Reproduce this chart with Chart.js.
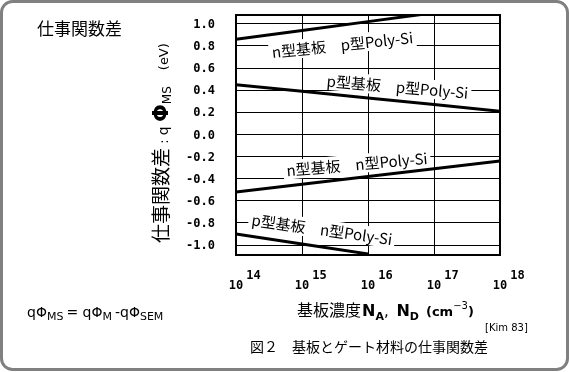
<!DOCTYPE html>
<html>
<head>
<meta charset="utf-8">
<script src="https://cdn.jsdelivr.net/npm/chart.js@4"></script>
<style>
html, body { margin: 0; padding: 0; background: #fff; }
</style>
</head>
<body>
<canvas id="c" width="569" height="372"></canvas>
<script>
// doping concentration (cm^-3) and work function difference (eV)
var concentration = [1e14, 1e15, 1e16, 1e17, 1e18];
var nSubPPoly = [0.86, 0.94, 1.02, 1.10, 1.18];
var pSubPPoly = [0.45, 0.39, 0.33, 0.27, 0.21];
var nSubNPoly = [-0.52, -0.45, -0.38, -0.31, -0.24];
var pSubNPoly = [-0.90, -0.99, -1.08, null, null];

var yTicks = [1.0, 0.8, 0.6, 0.4, 0.2, 0.0, -0.2, -0.4, -0.6, -0.8, -1.0];
var xExponents = ['14', '15', '16', '17', '18'];

var curveLabels = ['n型基板　p型Poly-Si', 'p型基板　p型Poly-Si', 'n型基板　n型Poly-Si', 'p型基板　n型Poly-Si'];
var curveLabelX = [4.1e15, 2.8e16, 6.8e15, 2.0e15];
var curveLabelY = [0.81, 0.43, -0.27, -0.86];
var curveLabelAngle = [-6, 5, -5, 8];

var JP = '"Noto Sans CJK JP", sans-serif';
var MONO = '"DejaVu Sans Mono", monospace';
var SANS = '"DejaVu Sans", sans-serif';

function toPoints(ys) {
   return concentration.map(function(x, i) { return { x: x, y: ys[i] }; });
}

function makeSet(ys) {
   return {
      data: toPoints(ys),
      borderColor: '#000',
      borderWidth: 3,
      pointRadius: 0,
      tension: 0,
      spanGaps: false
   };
}

// draws pieces of text one after another on a shared baseline
function runs(ctx, x, y, parts) {
   var cx = x;
   parts.forEach(function(p) {
      ctx.font = p.font;
      ctx.fillText(p.t, cx, y + (p.dy || 0));
      cx += ctx.measureText(p.t).width + (p.gap || 0);
   });
   return cx - x;
}

var textPlugin = {
   id: 'texts',
   beforeDatasetsDraw: function(chart) {
      var ctx = chart.ctx, xs = chart.scales.x, ys = chart.scales.y;
      ctx.save();
      ctx.font = '15px ' + JP;
      for (var i = 0; i < curveLabels.length; i++) {
         var w = ctx.measureText(curveLabels[i]).width;
         ctx.save();
         ctx.translate(xs.getPixelForValue(curveLabelX[i]), ys.getPixelForValue(curveLabelY[i]));
         ctx.rotate(curveLabelAngle[i] * Math.PI / 180);
         ctx.fillStyle = '#fff';
         ctx.fillRect(-w / 2 - 3, -10, w + 6, 19);
         ctx.restore();
      }
      ctx.restore();
   },
   afterDatasetsDraw: function(chart) {
      var ctx = chart.ctx, xs = chart.scales.x, ys = chart.scales.y;
      var a = chart.chartArea;
      ctx.save();
      ctx.fillStyle = '#000';

      // curve labels
      ctx.font = '15px ' + JP;
      ctx.textAlign = 'center';
      ctx.textBaseline = 'middle';
      for (var i = 0; i < curveLabels.length; i++) {
         ctx.save();
         ctx.translate(xs.getPixelForValue(curveLabelX[i]), ys.getPixelForValue(curveLabelY[i]));
         ctx.rotate(curveLabelAngle[i] * Math.PI / 180);
         ctx.fillText(curveLabels[i], 0, 0);
         ctx.restore();
      }

      // plot frame
      ctx.strokeStyle = '#000';
      ctx.lineWidth = 2;
      ctx.strokeRect(a.left, a.top, a.right - a.left, a.bottom - a.top);

      // y tick labels
      ctx.textAlign = 'right';
      ctx.textBaseline = 'middle';
      ctx.font = 'bold 12px ' + MONO;
      yTicks.forEach(function(v) {
         ctx.fillText(v.toFixed(1), a.left - 21, ys.getPixelForValue(v) + 1);
      });

      // x tick labels 10^n
      ctx.textAlign = 'left';
      ctx.textBaseline = 'alphabetic';
      concentration.forEach(function(v, i) {
         var px = xs.getPixelForValue(v);
         ctx.font = 'bold 12px ' + MONO;
         var w = ctx.measureText('10').width;
         ctx.fillText('10', px - w / 2, 289);
         ctx.fillText(xExponents[i], px + w / 2 + 3, 279);
      });

      // y axis title (rotated)
      ctx.save();
      ctx.translate(168, 243);
      ctx.rotate(-Math.PI / 2);
      runs(ctx, 0, 0, [
         { t: '仕事関数差', font: '19px ' + JP },
         { t: ' : ', font: '13px ' + SANS },
         { t: 'q ', font: '14px ' + SANS },
         { t: 'Φ', font: 'bold 21px ' + SANS },
         { t: 'MS', font: '12px ' + SANS, dy: 3, gap: 16 },
         { t: '(eV)', font: '13px ' + SANS }
      ]);
      ctx.restore();

      // x axis title
      runs(ctx, 297, 316, [
         { t: '基板濃度', font: '16px ' + JP, gap: 1 },
         { t: 'N', font: 'bold 16px ' + SANS },
         { t: 'A', font: 'bold 11px ' + SANS, dy: 4 },
         { t: ', ', font: '15px ' + SANS, gap: 3 },
         { t: 'N', font: 'bold 16px ' + SANS },
         { t: 'D', font: 'bold 11px ' + SANS, dy: 4, gap: 7 },
         { t: '(cm', font: 'bold 13px ' + SANS },
         { t: '−3', font: '10px ' + SANS, dy: -7 },
         { t: ')', font: 'bold 13px ' + SANS }
      ]);

      ctx.font = '10px ' + SANS;
      ctx.fillText('[Kim 83]', 485, 331);

      ctx.font = '14px ' + JP;
      ctx.fillText('図２　基板とゲート材料の仕事関数差', 250, 352);

      ctx.font = '17px ' + JP;
      ctx.fillText('仕事関数差', 37, 35);

      runs(ctx, 27, 317, [
         { t: 'qΦ', font: '14px ' + SANS },
         { t: 'MS', font: '11px ' + SANS, dy: 3, gap: 3 },
         { t: '= qΦ', font: '14px ' + SANS },
         { t: 'M', font: '11px ' + SANS, dy: 3, gap: 3 },
         { t: '-qΦ', font: '14px ' + SANS },
         { t: 'SEM', font: '11px ' + SANS, dy: 3 }
      ]);

      // outer rounded frame
      ctx.strokeStyle = '#808080';
      ctx.lineWidth = 3;
      ctx.beginPath();
      ctx.roundRect(1.5, 1.5, 566, 368, 11);
      ctx.stroke();
      ctx.restore();
   }
};

new Chart(document.getElementById('c'), {
   type: 'line',
   data: {
      datasets: [makeSet(nSubPPoly), makeSet(pSubPPoly), makeSet(nSubNPoly), makeSet(pSubNPoly)]
   },
   options: {
      responsive: false,
      animation: false,
      layout: { padding: { left: 236, right: 69, top: 15, bottom: 117 } },
      plugins: { legend: { display: false }, tooltip: { enabled: false } },
      scales: {
         x: {
            type: 'logarithmic',
            min: 1e14,
            max: 1e18,
            afterBuildTicks: function(s) { s.ticks = concentration.map(function(v) { return { value: v }; }); },
            ticks: { display: false },
            grid: { color: '#000', lineWidth: 1, drawTicks: false },
            border: { display: false }
         },
         y: {
            type: 'linear',
            min: -1.09,
            max: 1.08,
            afterBuildTicks: function(s) { s.ticks = yTicks.map(function(v) { return { value: v }; }); },
            ticks: { display: false },
            grid: { color: '#000', lineWidth: 1, drawTicks: false },
            border: { display: false }
         }
      }
   },
   plugins: [textPlugin]
});
</script>
</body>
</html>
